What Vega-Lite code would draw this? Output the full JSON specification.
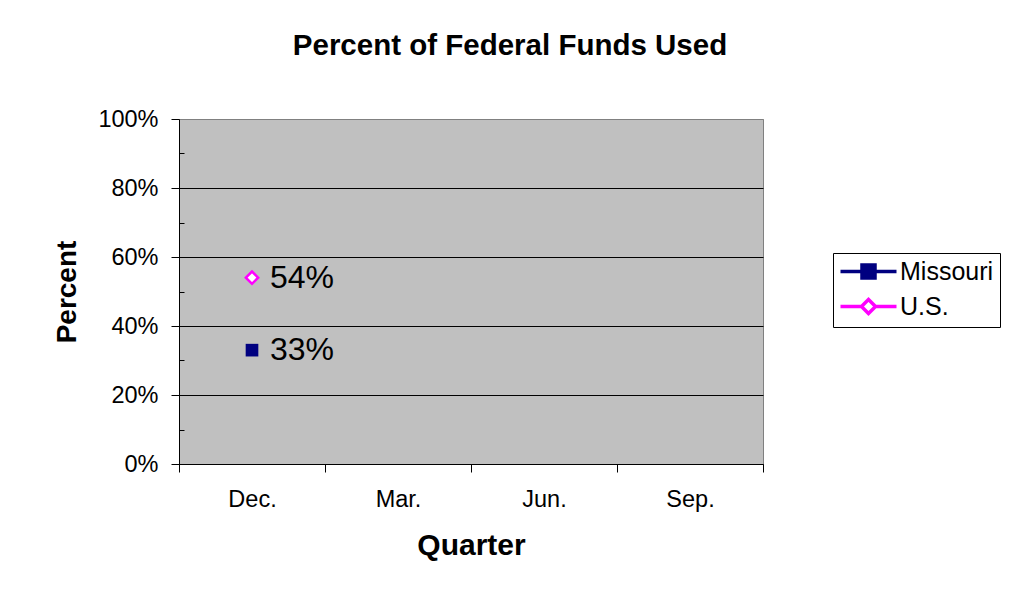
{
  "$schema": "https://vega.github.io/schema/vega-lite/v6.json",
  "autosize": "none",
  "width": 584,
  "height": 345,
  "padding": {"left": 179, "top": 119, "right": 255, "bottom": 144},
  "background": "white",
  "config": {
    "font": "Liberation Sans",
    "view": {"fill": "#c0c0c0", "stroke": "#808080", "strokeWidth": 1}
  },
  "title": {
    "text": "Percent of Federal Funds Used",
    "fontSize": 29.5,
    "fontWeight": "bold",
    "font": "Liberation Sans",
    "color": "black",
    "anchor": "middle",
    "frame": "group",
    "dx": 39,
    "offset": 46
  },
  "data": {
    "values": [
      {"quarter": "Dec.", "series": "Missouri", "value": 0.33},
      {"quarter": "Dec.", "series": "U.S.", "value": 0.54}
    ]
  },
  "encoding": {
    "x": {
      "field": "quarter",
      "type": "nominal",
      "sort": null,
      "scale": {"type": "band", "domain": ["Dec.", "Mar.", "Jun.", "Sep."], "paddingInner": 0, "paddingOuter": 0},
      "axis": {
        "title": "Quarter",
        "titleFontSize": 30,
        "titleFontWeight": "bold",
        "titleColor": "black",
        "titlePadding": 20,
        "labelAngle": 0,
        "labelFontSize": 23.5,
        "labelColor": "black",
        "labelPadding": 15,
        "tickBand": "extent",
        "tickSize": 8,
        "tickColor": "black",
        "domainColor": "black",
        "grid": false
      }
    }
  },
  "layer": [
    {
      "transform": [{"filter": "datum.series === 'Missouri'"}],
      "mark": {"type": "point", "shape": "square", "filled": true, "color": "#000080", "size": 160, "opacity": 1},
      "encoding": {
        "y": {
          "field": "value",
          "type": "quantitative",
          "scale": {"domain": [0, 1], "nice": false, "zero": true},
          "axis": {
            "title": "Percent",
            "titleFontSize": 28,
            "titleFontWeight": "bold",
            "titleColor": "black",
            "titlePadding": 16,
            "values": [0, 0.2, 0.4, 0.6, 0.8, 1],
            "format": ".0%",
            "labelFontSize": 23.5,
            "labelColor": "black",
            "labelPadding": 13,
            "tickSize": 8,
            "tickColor": "black",
            "domainColor": "black",
            "grid": true,
            "gridColor": {"condition": {"test": "datum.value === 1", "value": "#808080"}, "value": "black"},
            "gridOpacity": 1
          }
        }
      }
    },
    {
      "transform": [{"filter": "datum.series === 'U.S.'"}],
      "mark": {"type": "point", "shape": "diamond", "filled": true, "fill": "white", "stroke": "#ff00ff", "strokeWidth": 2.5, "size": 150, "opacity": 1},
      "encoding": {
        "y": {"field": "value", "type": "quantitative", "axis": null}
      }
    },
    {
      "mark": {"type": "text", "align": "left", "baseline": "middle", "dx": 18, "fontSize": 32, "color": "black"},
      "encoding": {
        "y": {"field": "value", "type": "quantitative", "axis": null},
        "text": {"field": "value", "type": "quantitative", "format": ".0%"}
      }
    },
    {
      "transform": [{"filter": "false"}],
      "mark": {"type": "point", "strokeWidth": 3.5, "opacity": 1},
      "encoding": {
        "y": {
          "field": "value",
          "type": "quantitative",
          "axis": {
            "orient": "left",
            "title": null,
            "values": [0.1, 0.3, 0.5, 0.7, 0.9],
            "labels": false,
            "domain": false,
            "grid": false,
            "tickSize": -5,
            "tickColor": "black"
          }
        },
        "shape": {
          "field": "series",
          "type": "nominal",
          "scale": {
            "domain": ["Missouri", "U.S."],
            "range": ["M-4,0H4M-0.93,-0.93H0.93V0.93H-0.93Z", "M-4,0H-1M1,0H4M-1,0L0,-1L1,0L0,1Z"]
          },
          "legend": {
            "title": null,
            "orient": "none",
            "legendX": 654,
            "legendY": 134,
            "direction": "vertical",
            "strokeColor": "black",
            "fillColor": "white",
            "padding": 6,
            "symbolSize": 196,
            "symbolStrokeWidth": 3.5,
            "symbolOffset": 17,
            "labelOffset": 19,
            "labelFontSize": 25,
            "labelColor": "black",
            "rowPadding": 6
          }
        },
        "fill": {
          "field": "series",
          "type": "nominal",
          "scale": {"domain": ["Missouri", "U.S."], "range": ["#000080", "#ffffff"]},
          "legend": {
            "title": null,
            "orient": "none",
            "legendX": 654,
            "legendY": 134,
            "direction": "vertical",
            "strokeColor": "black",
            "fillColor": "white",
            "padding": 6,
            "symbolSize": 196,
            "symbolStrokeWidth": 3.5,
            "symbolOffset": 17,
            "labelOffset": 19,
            "labelFontSize": 25,
            "labelColor": "black",
            "rowPadding": 6
          }
        },
        "stroke": {
          "field": "series",
          "type": "nominal",
          "scale": {"domain": ["Missouri", "U.S."], "range": ["#000080", "#ff00ff"]},
          "legend": {
            "title": null,
            "orient": "none",
            "legendX": 654,
            "legendY": 134,
            "direction": "vertical",
            "strokeColor": "black",
            "fillColor": "white",
            "padding": 6,
            "symbolSize": 196,
            "symbolStrokeWidth": 3.5,
            "symbolOffset": 17,
            "labelOffset": 19,
            "labelFontSize": 25,
            "labelColor": "black",
            "rowPadding": 6
          }
        }
      }
    }
  ],
  "resolve": {"axis": {"y": "independent"}}
}
